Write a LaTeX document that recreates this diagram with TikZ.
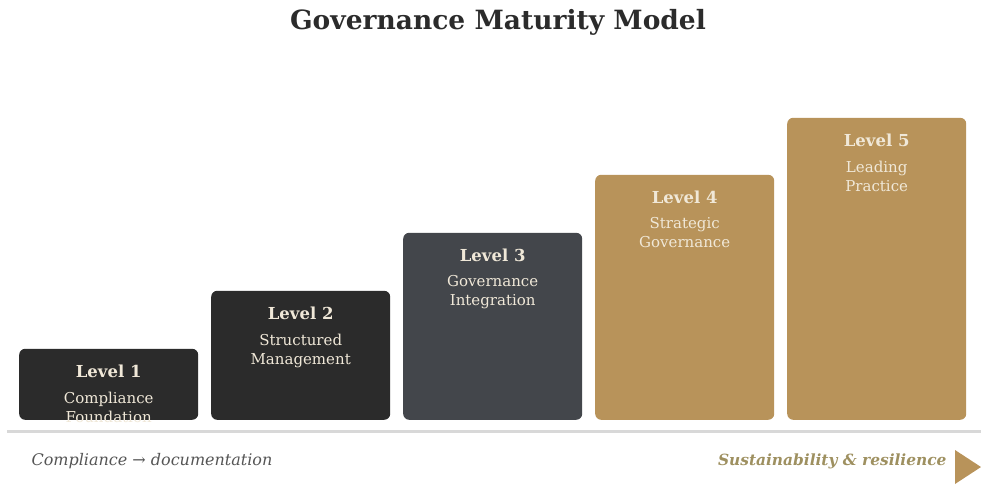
\documentclass[tikz,border=0pt]{standalone}
\usepackage{fontspec}
\setmainfont{DejaVu Serif}
\definecolor{inkdark}{HTML}{2B2B2B}
\definecolor{slate}{HTML}{43464B}
\definecolor{gold}{HTML}{B8935A}
\definecolor{cream}{HTML}{F0E8D8}
\definecolor{rule}{HTML}{D8D8D8}
\definecolor{capgray}{HTML}{555555}
\definecolor{olivegold}{HTML}{9E9060}
\tikzset{
  levelbox/.style={draw=none, rounded corners=6pt, minimum width=179pt,
    anchor=south west, inner sep=0pt},
  leveltitle/.style={text=cream, font=\fontsize{16.5}{16.5}\selectfont\bfseries, anchor=center},
  leveldesc/.style={text=cream, font=\fontsize{15}{19}\selectfont, align=center,
    anchor=north, inner sep=0pt},
}
\begin{document}
\begin{tikzpicture}[x=1pt, y=-1pt]
  \useasboundingbox (0,0) rectangle (981,484);
  % title
  \node[text=inkdark, font=\fontsize{26.5}{26.5}\selectfont\bfseries] (title) at (498,22) {Governance Maturity Model};
  % staircase of levels
  \node[levelbox, fill=inkdark, minimum height=71pt]  (b1) at (19,420)  {};
  \node[levelbox, fill=inkdark, minimum height=129pt] (b2) at (211,420) {};
  \node[levelbox, fill=slate,   minimum height=187pt] (b3) at (403,420) {};
  \node[levelbox, fill=gold,    minimum height=245pt] (b4) at (595,420) {};
  \node[levelbox, fill=gold,    minimum height=302pt] (b5) at (787,420) {};
  \foreach \b/\n/\d in {b1/1/{Compliance\\Foundation},
                        b2/2/{Structured\\Management},
                        b3/3/{Governance\\Integration},
                        b4/4/{Strategic\\Governance},
                        b5/5/{Leading\\Practice}} {
    \node[leveltitle] (\b t) at ([yshift=-23pt]\b.north) {Level \n};
    \node[leveldesc] (\b d) at ([yshift=-43pt]\b.north) {\d};
  }
  % baseline
  \coordinate (ruleL) at (7,431);
  \coordinate (ruleR) at (981,431);
  \draw[rule, line width=3pt] (ruleL) -- (ruleR);
  % axis captions
  \node[text=capgray, font=\fontsize{16}{16}\selectfont\itshape, anchor=west] (capL) at (28,461) {Compliance → documentation};
  \node[text=olivegold, font=\fontsize{15.4}{15.4}\selectfont\bfseries\itshape, anchor=east] (capR) at (950,461) {Sustainability \& resilience};
  \fill[gold] (955,450) -- (981,467) -- (955,484) -- cycle;
\end{tikzpicture}
\end{document}
